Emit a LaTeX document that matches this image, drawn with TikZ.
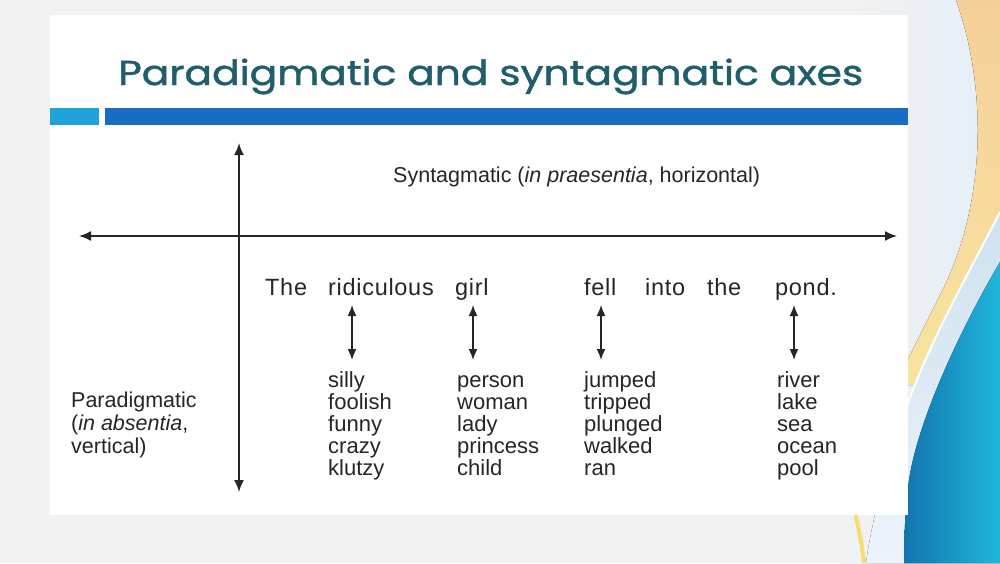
\documentclass[tikz,border=0pt]{standalone}
\usepackage{fontspec}
\setmainfont{Liberation Sans}
\newfontfamily\titlefont[FakeBold=1.2]{Poppins}
\newfontfamily\wordfont[LetterSpace=3]{Liberation Sans}
\usetikzlibrary{arrows.meta}
\definecolor{bggray}{HTML}{F2F2F2}
\definecolor{bgblue}{HTML}{E4EEF8}
\definecolor{orangeA}{HTML}{F6D09A}
\definecolor{yellowA}{HTML}{F8E4A0}
\definecolor{paleblueA}{HTML}{CFE2F0}
\definecolor{paleblueB}{HTML}{EDF3FA}
\definecolor{blueA}{HTML}{1275AE}
\definecolor{blueB}{HTML}{20B6DC}
\definecolor{yline}{HTML}{F5DF6A}
\definecolor{titlecol}{HTML}{1F5E6A}
\definecolor{sqblue}{HTML}{1EA2D8}
\definecolor{barblue}{HTML}{186CC2}
\definecolor{ink}{HTML}{262626}
\newcommand\wordcol[2]{\vtop{\baselineskip=#1\halign{##\hfil\cr#2\crcr}}}
\tikzset{
  axisline/.style={draw=ink, line width=1.8pt, {Latex[length=12pt,width=10pt]}-{Latex[length=12pt,width=10pt]}},
  smallarrow/.style={draw=ink, line width=1.6pt, {Latex[length=11pt,width=9pt]}-{Latex[length=11pt,width=9pt]}},
  sentword/.style={anchor=base west, inner sep=0pt, text=ink, font=\fontsize{23.5}{24}\wordfont},
  listcol/.style={anchor=base west, inner sep=0pt, text=ink, font=\fontsize{22}{22}\selectfont},
}
\begin{document}
\begin{tikzpicture}[x=1pt,y=-1pt]
\useasboundingbox (0,0) rectangle (1000,563);
% background
\fill[bggray] (0,0) rectangle (1000,563);
\fill[left color=bggray, right color=bgblue] (840,0) rectangle (1000,563);
% orange band
\fill[top color=orangeA, bottom color=yellowA] (956,0) .. controls (988,90) and (985,200) .. (945,285) .. controls (930,315) and (915,345) .. (895,385) -- (1000,385) -- (1000,0) -- cycle;
% pale blue band with white edge
\fill[top color=paleblueA, bottom color=paleblueB] (1000,212) .. controls (965,280) and (925,350) .. (902,420) .. controls (885,470) and (872,520) .. (866,563) -- (1000,563) -- cycle;
\draw[white, line width=2pt] (1000,212) .. controls (965,280) and (925,350) .. (902,420);
% blue region
\fill[left color=blueA, right color=blueB] (1000,262) .. controls (960,330) and (918,420) .. (909,480) .. controls (905,510) and (904,540) .. (904,563) -- (1000,563) -- cycle;
% thin yellow curve
\draw[yline, line width=4pt] (854,508) .. controls (859,530) and (862,545) .. (864,563);
% white panel
\fill[white] (50,15) rectangle (908,515);
% title
\node[anchor=base west, inner sep=0pt, text=titlecol] (title) at (118,85)
  {\scalebox{1}[0.85]{\resizebox{745pt}{!}{\fontsize{36}{40}\titlefont Paradigmatic and syntagmatic axes}}};
% bars
\fill[sqblue] (50,108) rectangle (99,125);
\fill[barblue] (105,108) rectangle (908,125);
% axes
\coordinate (vtop) at (239,143);
\coordinate (vbot) at (239,492);
\coordinate (hleft) at (79,236);
\coordinate (hright) at (897,236);
\draw[axisline] (vtop) -- (vbot);
\draw[axisline] (hleft) -- (hright);
% axis labels
\node[anchor=base west, inner sep=0pt, text=ink, font=\fontsize{21.5}{23}\selectfont] (synt) at (393,182)
  {Syntagmatic (\textit{in praesentia}, horizontal)};
\node[anchor=base west, inner sep=0pt, text=ink, font=\fontsize{21.5}{23}\selectfont] (para) at (71,407)
  {\wordcol{23pt}{Paradigmatic\cr(\textit{in absentia},\cr vertical)}};
% sentence
\node[sentword] (w1) at (265,295) {The};
\node[sentword] (w2) at (328,295) {ridiculous};
\node[sentword] (w3) at (455,295) {girl};
\node[sentword] (w4) at (584,295) {fell};
\node[sentword] (w5) at (645,295) {into};
\node[sentword] (w6) at (707,295) {the};
\node[sentword] (w7) at (775,295) {pond.};
% paradigm lists
\node[listcol] (l1) at (328,387) {\wordcol{22pt}{silly\cr foolish\cr funny\cr crazy\cr klutzy}};
\node[listcol] (l2) at (457,387) {\wordcol{22pt}{person\cr woman\cr lady\cr princess\cr child}};
\node[listcol] (l3) at (584,387) {\wordcol{22pt}{jumped\cr tripped\cr plunged\cr walked\cr ran}};
\node[listcol] (l4) at (777,387) {\wordcol{22pt}{river\cr lake\cr sea\cr ocean\cr pool}};
% small arrows
\coordinate (a1t) at (352,305); \coordinate (a1b) at (352,360);
\coordinate (a2t) at (473,305); \coordinate (a2b) at (473,360);
\coordinate (a3t) at (601,305); \coordinate (a3b) at (601,360);
\coordinate (a4t) at (794,305); \coordinate (a4b) at (794,360);
\draw[smallarrow] (a1t) -- (a1b);
\draw[smallarrow] (a2t) -- (a2b);
\draw[smallarrow] (a3t) -- (a3b);
\draw[smallarrow] (a4t) -- (a4b);
\end{tikzpicture}
\end{document}
